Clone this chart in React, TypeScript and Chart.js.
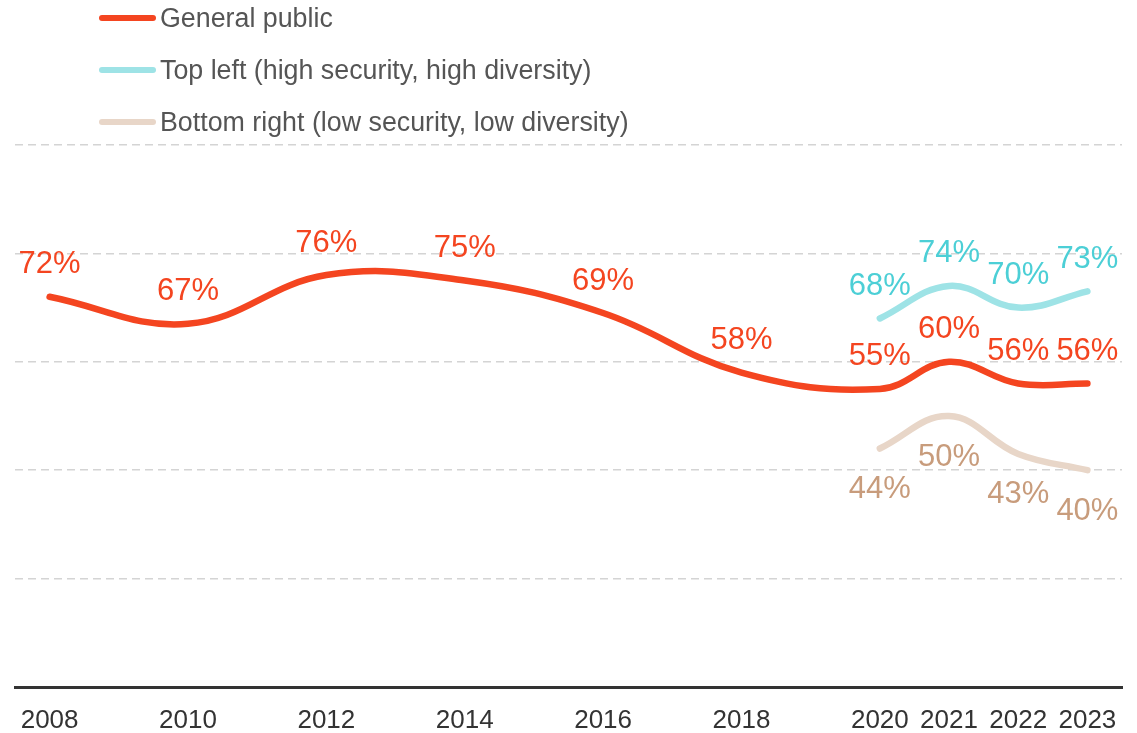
import React, { useEffect, useRef } from "react";
import { Chart, registerables } from "chart.js";

Chart.register(...registerables);

const years = [2008, 2010, 2012, 2014, 2016, 2018, 2020, 2021, 2022, 2023];
const generalPublic = [72, 67, 76, 75, 69, 58, 55, 60, 56, 56];
const topLeftYears = [2020, 2021, 2022, 2023];
const topLeft = [68, 74, 70, 73];
const bottomRightYears = [2020, 2021, 2022, 2023];
const bottomRight = [44, 50, 43, 40];
const yGrid = [0, 20, 40, 60, 80, 100];

const seriesNames = [
  "General public",
  "Top left (high security, high diversity)",
  "Bottom right (low security, low diversity)",
];
const lineColors = ["#f44520", "#9ee3e6", "#e8d6c8"];
const labelColors = ["#f44520", "#4ccfd6", "#c89c7c"];
const labelBelow = [false, false, true];

const FONT = "'Liberation Sans', Arial, sans-serif";

const labelsPlugin = {
  id: "valueLabels",
  afterDatasetsDraw(chart: any) {
    const ctx = chart.ctx;
    ctx.save();
    ctx.font = `31px ${FONT}`;
    ctx.textAlign = "center";
    ctx.textBaseline = "middle";
    chart.data.datasets.forEach((ds: any, i: number) => {
      const meta = chart.getDatasetMeta(i);
      ctx.fillStyle = labelColors[i];
      meta.data.forEach((pt: any, j: number) => {
        const v = ds.data[j].y;
        const y = labelBelow[i] ? pt.y + 41 : pt.y - 32;
        ctx.fillText(`${v}%`, pt.x, y);
      });
    });
    ctx.restore();
  },
};

const legendPlugin = {
  id: "customLegend",
  afterDraw(chart: any) {
    const ctx = chart.ctx;
    ctx.save();
    ctx.font = `26.8px ${FONT}`;
    ctx.textAlign = "left";
    ctx.textBaseline = "middle";
    seriesNames.forEach((name, i) => {
      const y = 18 + i * 52;
      ctx.strokeStyle = lineColors[i];
      ctx.lineWidth = 6;
      ctx.lineCap = "round";
      ctx.beginPath();
      ctx.moveTo(102, y);
      ctx.lineTo(153, y);
      ctx.stroke();
      ctx.fillStyle = "#555555";
      ctx.fillText(name, 160, y + 2);
    });
    ctx.restore();
  },
};

export default function App() {
  const ref = useRef<HTMLCanvasElement>(null);
  useEffect(() => {
    if (!ref.current) return;
    const mk = (xs: number[], ys: number[]) => xs.map((x, i) => ({ x, y: ys[i] }));
    const chart = new Chart(ref.current, {
      type: "line",
      data: {
        datasets: [
          { label: seriesNames[0], data: mk(years, generalPublic) },
          { label: seriesNames[1], data: mk(topLeftYears, topLeft) },
          { label: seriesNames[2], data: mk(bottomRightYears, bottomRight) },
        ].map((d, i) => ({
          ...d,
          borderColor: lineColors[i],
          backgroundColor: lineColors[i],
          borderWidth: 6.5,
          borderCapStyle: "round" as const,
          borderJoinStyle: "round" as const,
          pointRadius: 0,
          tension: 0.4,
          fill: false,
        })),
      },
      options: {
        animation: false,
        responsive: false,
        maintainAspectRatio: false,
        layout: { padding: { left: 15, right: 15, top: 145, bottom: 0 } },
        plugins: { legend: { display: false }, tooltip: { enabled: false } },
        scales: {
          x: {
            type: "linear",
            min: 2007.5,
            max: 2023.5,
            afterBuildTicks: (scale: any) => {
              scale.ticks = years.map((v) => ({ value: v }));
            },
            afterFit: (scale: any) => {
              scale.height = 46;
            },
            grid: { display: false, drawTicks: false },
            border: { display: true, color: "#333333", width: 3 },
            ticks: {
              autoSkip: false,
              maxRotation: 0,
              padding: 18,
              color: "#333333",
              font: { family: FONT, size: 26 },
              callback: (v: any) => String(v),
            },
          },
          y: {
            type: "linear",
            min: 0,
            max: 100,
            afterBuildTicks: (scale: any) => {
              scale.ticks = yGrid.map((v) => ({ value: v }));
            },
            ticks: { display: false },
            grid: {
              drawTicks: false,
              lineWidth: 1.5,
              color: (c: any) => (c.tick && c.tick.value === 0 ? "rgba(0,0,0,0)" : "#d4d4d4"),
            },
            border: { display: false, dash: [8, 5] },
          },
        },
      },
      plugins: [labelsPlugin, legendPlugin],
    });
    return () => chart.destroy();
  }, []);
  return (
    <div style={{ position: "fixed", left: 0, top: 0, width: 1137, height: 733, background: "#fff" }}>
      <canvas ref={ref} width={1137} height={733} style={{ width: 1137, height: 733 }} />
    </div>
  );
}
